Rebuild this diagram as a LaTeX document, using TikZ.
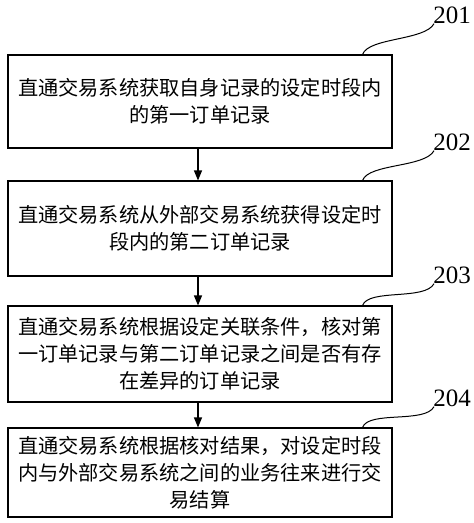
\documentclass[tikz,border=0pt]{standalone}
\usepackage{fontspec}
\setmainfont{Liberation Serif}
\newfontfamily\cjk{Noto Sans CJK SC}
\usetikzlibrary{arrows.meta, positioning}

\begin{document}
\begin{tikzpicture}[x=1pt, y=-1pt,
    stepbox/.style={draw, line width=1.1pt, minimum width=384pt, inner sep=0pt, align=center, font=\cjk\fontsize{20.2}{27}\selectfont},
    numlabel/.style={inner sep=0pt, font=\fontsize{25}{25}\selectfont},
    flow/.style={-{Triangle[length=10pt, width=8pt]}, line width=1.1pt},
    leader/.style={line width=1pt}]
    \useasboundingbox (0,0) rectangle (474,523);

    % Steps
    \foreach \n/\y/\h/\txt in {
        1/101.5/93/{直通交易系统获取自身记录的设定时段内\\的第一订单记录},
        2/228.5/95/{直通交易系统从外部交易系统获得设定时\\段内的第二订单记录},
        3/354/96/{直通交易系统根据设定关联条件，核对第\\一订单记录与第二订单记录之间是否有存\\在差异的订单记录},
        4/472.5/89/{直通交易系统根据核对结果，对设定时段\\内与外部交易系统之间的业务往来进行交\\易结算}} {
        \node[stepbox, minimum height=\h pt] (step\n) at (200, \y) {\txt};
    }

    % Step numbers with leaders
    \foreach \n/\y in {1/15, 2/142, 3/275, 4/398} {
        \pgfmathtruncatemacro{\num}{200+\n}
        \node[numlabel] (label\n) at (452, \y) {\num};
        \draw[leader] ([xshift=-30pt]step\n.north east) .. controls +(6,-17) and +(-9,17) .. ([xshift=1pt]label\n.south west);
    }

    % Flow
    \foreach \i in {1,2,3} {
        \pgfmathtruncatemacro{\j}{\i+1}
        \draw[flow] ([xshift=-2pt]step\i.south) -- ([xshift=-2pt]step\j.north);
    }
\end{tikzpicture}
\end{document}
